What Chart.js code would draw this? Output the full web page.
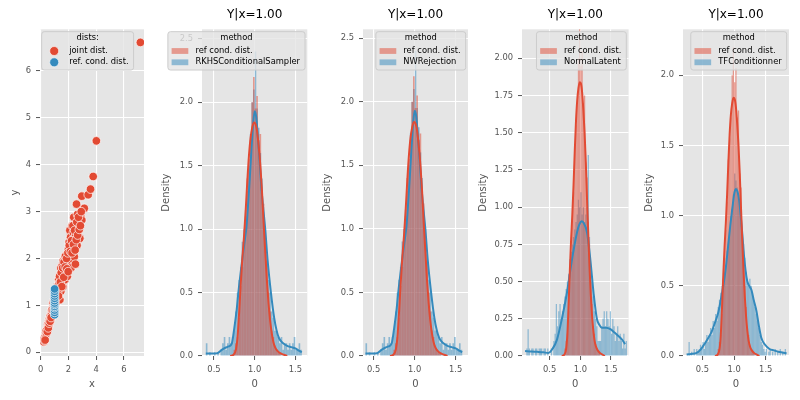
<!DOCTYPE html>
<html>
<head>
<meta charset="utf-8">
<script src="https://cdn.jsdelivr.net/npm/chart.js@4.4.0/dist/chart.umd.min.js"></script>
<style>
  html, body { margin: 0; padding: 0; background: #fff; }
  #fig { position: relative; width: 800px; height: 400px; overflow: hidden; }
  .panel { position: absolute; top: 0; height: 400px; }
</style>
</head>
<body>
<div id="fig"></div>
<script>
// ---------- data ----------
// scatter: joint distribution and the conditional sample at x = 1
const jointX = [0.22,0.25,0.28,0.30,0.35,0.38,0.42,0.45,0.50,0.52,0.58,0.60,0.65,0.70,0.72,0.78,0.80,0.85,0.88,0.92,
  0.95,1.05,1.10,1.10,1.15,1.20,1.25,1.30,1.30,1.35,1.38,1.40,1.45,1.45,1.50,1.55,1.58,1.60,1.62,1.65,
  1.70,1.72,1.75,1.80,1.83,1.85,1.90,1.92,1.95,2.00,2.02,2.05,2.08,2.10,2.12,2.15,2.18,2.20,2.25,2.28,
  2.30,2.35,2.38,2.40,2.42,2.45,2.50,2.52,2.55,2.58,2.62,2.65,2.70,2.75,2.80,2.82,2.88,2.96,2.96,3.14,
  3.42,3.59,3.78,4.01,7.18,
  0.32,0.40,0.48,0.55,0.62,0.68,0.75,0.82,0.90,0.98,1.02,1.08,1.18,1.22,1.28,1.32,1.36,1.42,1.48,1.52,
  1.58,1.66,1.68,1.76,1.78,1.86,1.88,1.96,1.98,2.06,2.14,2.22,2.26,2.32,2.36,2.44,2.48,2.56,2.60,2.66,
  2.72,2.78,2.86,2.92];
const jointY = [0.22,0.28,0.24,0.32,0.36,0.42,0.40,0.50,0.52,0.60,0.58,0.68,0.72,0.78,0.70,0.88,0.82,0.95,1.05,0.98,
  1.10,1.15,1.05,1.25,1.30,1.18,1.40,1.33,1.55,1.48,1.12,1.65,1.30,1.80,1.55,1.85,1.62,1.40,1.95,1.78,
  1.72,2.00,1.55,1.90,1.97,1.70,2.10,1.62,1.85,2.20,1.78,2.35,2.00,2.60,1.90,2.45,1.80,2.20,2.70,2.00,
  2.40,2.55,2.88,2.10,2.04,2.30,1.88,2.50,2.62,3.16,2.28,2.94,2.60,2.45,2.74,2.43,2.90,2.82,3.33,3.07,
  3.36,3.48,3.75,4.51,6.61,
  0.26,0.46,0.44,0.52,0.62,0.66,0.74,0.90,0.88,1.00,1.08,1.18,1.40,1.28,1.20,1.45,1.62,1.50,1.70,1.40,
  1.80,1.60,1.92,1.82,2.05,2.00,1.78,2.12,1.72,2.28,2.15,2.38,2.12,2.70,2.30,2.60,2.18,2.40,2.78,2.50,
  2.88,2.62,2.70,3.00];
const refCondX = 1.0;
const refCondY = [0.80,0.85,0.90,0.95,0.98,1.02,1.05,1.10,1.15,1.20,1.25,1.30,1.35];

// histograms (density, bin width 0.02, start = left edge of first bin)
const binWidth = 0.02;
const refHistStart = 0.74;
const refHist = [0.05,0.10,0.15,0.30,0.55,0.70,0.90,1.10,1.40,1.55,1.70,2.00,2.20,1.95,2.05,1.70,1.75,1.30,1.20,0.90,
  0.75,0.50,0.35,0.20,0.15,0.08,0.05,0.03,0.02];
const refKdeX = [0.70,0.74,0.77,0.79,0.81,0.83,0.85,0.87,0.89,0.91,0.93,0.95,0.97,0.99,1.01,1.03,1.05,1.07,1.09,1.11,
  1.13,1.15,1.17,1.19,1.21,1.23,1.25,1.28,1.32,1.36,1.40];
const refKdeY = [0.00,0.01,0.05,0.15,0.35,0.58,0.78,0.95,1.15,1.38,1.58,1.72,1.80,1.84,1.83,1.77,1.65,1.50,1.30,1.05,
  0.82,0.60,0.42,0.28,0.18,0.11,0.07,0.04,0.02,0.01,0.00];

const rkhsHistStart = 0.40;
const rkhsHist = [0.10,0.00,0.03,0.00,0.00,0.03,0.00,0.03,0.00,0.05,
  0.10,0.15,0.05,0.10,0.15,0.10,0.15,0.20,0.35,0.50,
  0.60,0.70,0.90,1.00,1.15,1.30,1.50,1.75,2.00,2.10,
  2.40,1.95,1.80,1.60,1.40,1.10,1.00,0.80,0.60,0.50,
  0.35,0.30,0.20,0.20,0.15,0.10,0.15,0.05,0.10,0.10,
  0.05,0.10,0.05,0.10,0.15,0.05,0.05,0.10,0.05];
const rkhsKdeX = [0.40,0.45,0.50,0.55,0.60,0.64,0.68,0.72,0.75,0.78,0.80,0.84,0.88,0.90,0.92,0.94,0.96,0.98,1.00,1.02,
  1.04,1.06,1.08,1.10,1.13,1.16,1.20,1.24,1.27,1.30,1.35,1.40,1.45,1.50,1.55,1.58];
const rkhsKdeY = [0.02,0.02,0.02,0.025,0.05,0.065,0.075,0.10,0.22,0.37,0.50,0.72,0.92,1.02,1.20,1.40,1.62,1.82,1.93,1.88,
  1.72,1.55,1.35,1.20,1.00,0.75,0.50,0.30,0.20,0.14,0.10,0.08,0.07,0.06,0.04,0.03];

const nwHistStart = 0.40;
const nwHist = [0.10,0.00,0.03,0.00,0.00,0.03,0.00,0.03,0.00,0.05,
  0.10,0.15,0.05,0.10,0.15,0.10,0.15,0.20,0.35,0.50,
  0.60,0.70,0.90,1.00,1.15,1.30,1.50,1.75,2.00,2.10,
  2.40,1.95,1.80,1.60,1.40,1.10,1.00,0.80,0.60,0.50,
  0.35,0.30,0.20,0.20,0.15,0.10,0.15,0.05,0.10,0.10,
  0.05,0.10,0.05,0.10,0.15,0.05,0.05,0.10,0.05];
const nwKdeX = [0.40,0.45,0.50,0.55,0.60,0.64,0.68,0.72,0.75,0.78,0.80,0.84,0.88,0.90,0.92,0.94,0.96,0.98,1.00,1.02,
  1.04,1.06,1.08,1.10,1.13,1.16,1.20,1.24,1.27,1.30,1.35,1.40,1.45,1.50,1.55,1.58];
const nwKdeY = [0.02,0.02,0.02,0.025,0.05,0.065,0.075,0.10,0.22,0.37,0.50,0.72,0.92,1.02,1.20,1.40,1.62,1.82,1.93,1.88,
  1.72,1.55,1.35,1.20,1.00,0.75,0.50,0.30,0.20,0.14,0.10,0.08,0.07,0.06,0.04,0.03];

const normalHistStart = 0.12;
const normalHist = [0.05,0.18,0.05,0.00,0.05,0.05,0.00,0.05,0.05,0.00,
  0.05,0.05,0.05,0.00,0.05,0.05,0.00,0.05,0.00,0.00,
  0.05,0.00,0.10,0.15,0.35,0.20,0.30,0.35,0.25,0.30,
  0.35,0.40,0.45,0.50,0.55,0.65,0.70,0.75,0.80,0.85,
  0.90,0.95,1.05,1.00,1.10,0.95,1.00,0.90,0.95,1.00,
  1.35,0.80,0.60,0.50,0.40,0.30,0.25,0.20,0.10,0.10,
  0.10,0.20,0.25,0.30,0.20,0.30,0.25,0.20,0.30,0.15,
  0.25,0.20,0.10,0.15,0.20,0.10,0.15,0.10,0.05,0.15,
  0.05,0.10];
const normalKdeX = [0.10,0.20,0.30,0.40,0.48,0.55,0.62,0.70,0.78,0.865,0.946,0.98,1.027,1.06,1.11,1.163,1.217,1.27,1.31,1.35,
  1.42,1.49,1.55,1.62,1.68,1.73];
const normalKdeY = [0.034,0.03,0.028,0.025,0.02,0.05,0.11,0.25,0.42,0.65,0.83,0.88,0.905,0.89,0.83,0.65,0.42,0.25,0.21,0.19,
  0.19,0.18,0.16,0.135,0.11,0.08];

const tfHistStart = 0.28;
const tfHist = [0.10,0.00,0.03,0.00,0.05,0.00,0.05,0.03,0.05,0.08,
  0.05,0.10,0.05,0.10,0.15,0.10,0.15,0.20,0.15,0.25,
  0.20,0.30,0.25,0.35,0.40,0.45,0.50,0.55,0.60,0.65,
  0.75,0.80,0.90,1.00,1.05,1.15,1.30,1.25,1.20,1.15,
  1.05,0.95,0.90,0.80,0.70,0.60,0.55,0.50,0.55,0.50,
  0.45,0.40,0.35,0.30,0.25,0.20,0.15,0.10,0.08,0.05,
  0.03,0.05,0.00,0.03,0.05,0.00,0.03,0.00,0.05,0.00,
  0.03,0.00,0.05,0.00,0.03,0.00,0.05];
const tfKdeX = [0.25,0.32,0.40,0.46,0.51,0.58,0.643,0.70,0.75,0.79,0.83,0.87,0.905,0.94,0.975,1.00,1.027,1.055,1.08,1.105,
  1.13,1.16,1.205,1.24,1.275,1.31,1.354,1.39,1.43,1.49,1.56,1.63,1.70,1.76,1.83];
const tfKdeY = [0.01,0.015,0.02,0.04,0.07,0.12,0.17,0.24,0.31,0.40,0.50,0.63,0.78,0.93,1.06,1.15,1.19,1.17,1.11,1.00,
  0.87,0.70,0.54,0.50,0.47,0.40,0.32,0.22,0.13,0.08,0.05,0.04,0.03,0.025,0.02];

// ticks
const scatterXTicks = [0, 2, 4, 6];
const scatterYTicks = [0, 1, 2, 3, 4, 5, 6];
const histXTicks = [0.5, 1.0, 1.5];
const densTicksWide = [0, 0.5, 1.0, 1.5, 2.0, 2.5];
const densTicksFine = [0, 0.25, 0.5, 0.75, 1.0, 1.25, 1.5, 1.75, 2.0];
const densTicksShort = [0, 0.5, 1.0, 1.5, 2.0];

// ---------- styling ----------
const RED = '#E24A33', BLUE = '#348ABD';
const RED_FILL = 'rgba(226,74,51,0.5)', BLUE_FILL = 'rgba(52,138,189,0.5)';
Chart.defaults.font.family = '"DejaVu Sans"';
Chart.defaults.color = '#555555';
Chart.defaults.animation = false;

const panelBg = {
  id: 'panelBg',
  beforeDraw(chart) {
    const { ctx, chartArea: a } = chart;
    ctx.save();
    ctx.fillStyle = '#E5E5E5';
    ctx.fillRect(a.left, a.top, a.right - a.left, a.bottom - a.top);
    ctx.restore();
  }
};

// matplotlib-like framed legend drawn inside the axes
const boxLegend = {
  id: 'boxLegend',
  afterDraw(chart, args, opts) {
    if (!opts.title) return;
    const { ctx, chartArea: a } = chart;
    const items = chart.data.datasets.filter(d => d.inLegend);
    ctx.save();
    ctx.font = '8.33px "DejaVu Sans"';
    const textW = Math.max(ctx.measureText(opts.title).width, ...items.map(d => ctx.measureText(d.label).width));
    const w = 27.5 + textW + 5, h = 38.3;
    const x = opts.align === 'left' ? a.left + 1.7 : a.right - 2.3 - w;
    const y = a.top + 2.4;
    ctx.beginPath();
    ctx.roundRect(x, y, w, h, 2.5);
    ctx.fillStyle = 'rgba(229,229,229,0.8)';
    ctx.fill();
    ctx.lineWidth = 1;
    ctx.strokeStyle = '#cccccc';
    ctx.stroke();
    ctx.fillStyle = '#000';
    ctx.textBaseline = 'middle';
    ctx.textAlign = 'center';
    ctx.fillText(opts.title, x + w / 2, y + 6.3);
    ctx.textAlign = 'left';
    items.forEach((d, i) => {
      const cy = y + 19.3 + i * 11.3;
      if (opts.shape === 'circle') {
        ctx.beginPath();
        ctx.arc(x + 12.5, cy, 4.5, 0, Math.PI * 2);
        ctx.fillStyle = d.backgroundColor;
        ctx.fill();
        ctx.strokeStyle = '#fff';
        ctx.lineWidth = 0.6;
        ctx.stroke();
      } else {
        ctx.fillStyle = d.backgroundColor;
        ctx.fillRect(x + 3.7, cy - 2.9, 16.7, 5.8);
      }
      ctx.fillStyle = '#000';
      ctx.fillText(d.label, x + 27.5, cy);
    });
    ctx.restore();
  }
};
Chart.register(panelBg, boxLegend);

// ---------- helpers ----------
const fig = document.getElementById('fig');
function makeCanvas(left, width) {
  const div = document.createElement('div');
  div.className = 'panel';
  div.style.left = left + 'px';
  div.style.width = width + 'px';
  const cv = document.createElement('canvas');
  cv.width = width; cv.height = 400;
  cv.style.width = width + 'px'; cv.style.height = '400px';
  div.appendChild(cv);
  fig.appendChild(div);
  return cv;
}

function axis(min, max, ticks, dec, label, size, isY) {
  return {
    type: 'linear', min, max, offset: false,
    grid: { color: '#ffffff', lineWidth: 1.1, drawTicks: true, tickLength: 4, tickColor: '#555555', tickWidth: 1, offset: false },
    border: { display: false },
    ticks: { color: '#555555', font: { size: 8.33 }, padding: 5, maxRotation: 0, autoSkip: false,
      callback: v => Number(v).toFixed(dec) },
    title: { display: true, text: label, color: '#555555', font: { size: 10 },
      padding: isY ? { top: 0, bottom: 0 } : { top: 0, bottom: 10 } },
    afterBuildTicks: s => { s.ticks = ticks.map(v => ({ value: v })); },
    afterFit: s => { if (isY) s.width = size; else s.height = size; }
  };
}

const zip = (xs, ys) => xs.map((x, i) => ({ x, y: ys[i] }));
const bins = (start, hs) => hs.map((h, i) => ({ x: +(start + binWidth / 2 + i * binWidth).toFixed(2), y: h }));

// ---------- scatter panel ----------
// listed joint first (legend order); the lower `order` is drawn on top
new Chart(makeCanvas(9, 140), {
  type: 'scatter',
  data: {
    datasets: [
      { label: 'joint dist.', data: zip(jointX, jointY), backgroundColor: RED,
        borderColor: '#ffffff', borderWidth: 0.7, pointRadius: 4.3, order: 1, inLegend: true },
      { label: 'ref. cond. dist.', data: refCondY.map(y => ({ x: refCondX, y })), backgroundColor: BLUE,
        borderColor: '#ffffff', borderWidth: 0.7, pointRadius: 4.3, order: 0, inLegend: true }
    ]
  },
  options: {
    responsive: false,
    events: [],
    layout: { padding: { top: 29.3, right: 2.3, left: 0, bottom: 0 } },
    scales: {
      x: axis(-0.05, 7.44, scatterXTicks, 0, 'x', 44, false),
      y: axis(-0.08, 6.89, scatterYTicks, 0, 'y', 31, true)
    },
    plugins: { legend: { display: false }, tooltip: { enabled: false }, title: { display: false },
      boxLegend: { title: 'dists:', align: 'left', shape: 'circle' } }
  }
});

// ---------- histogram panels ----------
function histPanel(left, width, yw, padR, p) {
  new Chart(makeCanvas(left, width), {
    type: 'bar',
    data: {
      datasets: [
        { type: 'line', label: 'ref kde', data: zip(refKdeX, refKdeY), borderColor: RED, borderWidth: 2,
          pointRadius: 0, cubicInterpolationMode: 'monotone', fill: false, order: 0 },
        { type: 'line', label: p.name + ' kde', data: zip(p.kdeX, p.kdeY), borderColor: BLUE, borderWidth: 2,
          pointRadius: 0, cubicInterpolationMode: 'monotone', fill: false, order: 1 },
        { type: 'bar', label: 'ref cond. dist.', data: bins(refHistStart, refHist), backgroundColor: RED_FILL,
          order: 2, inLegend: true },
        { type: 'bar', label: p.name, data: bins(p.start, p.hist), backgroundColor: BLUE_FILL,
          order: 3, inLegend: true }
      ]
    },
    options: {
      responsive: false,
      events: [],
      datasets: { bar: { barPercentage: 1, categoryPercentage: 1, grouped: false, borderWidth: 0, inflateAmount: 0 } },
      layout: { padding: { top: 0, right: padR, left: 0, bottom: 0 } },
      scales: {
        x: axis(p.xmin, p.xmax, histXTicks, 1, '0', 44, false),
        y: axis(0, p.ymax, p.yTicks, p.yDec, 'Density', yw, true)
      },
      plugins: {
        legend: { display: false }, tooltip: { enabled: false },
        title: { display: true, text: 'Y|x=1.00', color: '#000000', fullSize: false,
          font: { size: 12, weight: 'normal' }, padding: { top: 8, bottom: 6.9 } },
        boxLegend: { title: 'method', align: 'right', shape: 'rect' }
      }
    }
  });
}

histPanel(160, 149, 42, 1.7, { name: 'RKHSConditionalSampler', start: rkhsHistStart, hist: rkhsHist,
  kdeX: rkhsKdeX, kdeY: rkhsKdeY, xmin: 0.353, xmax: 1.647, ymax: 2.575, yTicks: densTicksWide, yDec: 1 });
histPanel(321.3, 149, 42, 2.0, { name: 'NWRejection', start: nwHistStart, hist: nwHist,
  kdeX: nwKdeX, kdeY: nwKdeY, xmin: 0.37, xmax: 1.65, ymax: 2.57, yTicks: densTicksWide, yDec: 1 });
histPanel(476.7, 154, 45, 2.4, { name: 'NormalLatent', start: normalHistStart, hist: normalHist,
  kdeX: normalKdeX, kdeY: normalKdeY, xmin: 0.05, xmax: 1.787, ymax: 2.195, yTicks: densTicksFine, yDec: 2 });
histPanel(643.3, 148, 40, 2.0, { name: 'TFConditionner', start: tfHistStart, hist: tfHist,
  kdeX: tfKdeX, kdeY: tfKdeY, xmin: 0.193, xmax: 1.868, ymax: 2.328, yTicks: densTicksShort, yDec: 1 });
</script>
</body>
</html>
